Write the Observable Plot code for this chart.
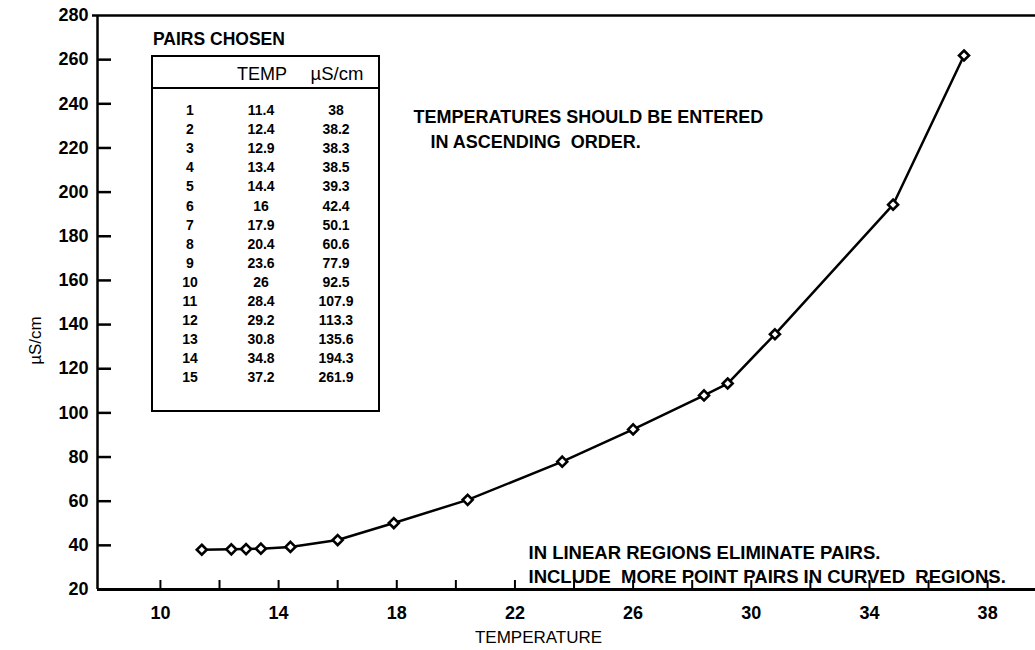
<!DOCTYPE html>
<html><head><meta charset="utf-8">
<script src="https://cdn.jsdelivr.net/npm/d3@7"></script>
<script src="https://cdn.jsdelivr.net/npm/@observablehq/plot@0.6"></script>
<style>
body{margin:0;background:#fff;font-family:"Liberation Sans",Arial,Helvetica,sans-serif;}
#wrap{position:relative;width:1035px;height:650px;overflow:hidden;}
#wrap svg{position:absolute;left:0;top:0;}
.ov{position:absolute;color:#000;white-space:nowrap;line-height:1;}
.b{font-weight:bold;}
.c{transform:translate(-50%,-50%);}
#box{position:absolute;left:151px;top:55px;width:229px;height:357px;border:2.5px solid #000;box-sizing:border-box;}
#sep{position:absolute;left:151px;top:87px;width:229px;height:0;border-top:2px solid #000;}
</style></head><body><div id="wrap"></div>
<script>
// ---- data ----
const pairNo = [1,2,3,4,5,6,7,8,9,10,11,12,13,14,15];
const temperature = [11.4,12.4,12.9,13.4,14.4,16,17.9,20.4,23.6,26,28.4,29.2,30.8,34.8,37.2];
const conductivity = [38,38.2,38.3,38.5,39.3,42.4,50.1,60.6,77.9,92.5,107.9,113.3,135.6,194.3,261.9];
const xTickMarks = [10,12,14,16,18,20,22,24,26,28,30,32,34,36,38];
const xTickLabels = [10,14,18,22,26,30,34,38];
const yTickMarks = [40,60,80,100,120,140,160,180,200,220,240,260];
const yTickLabels = [20,40,60,80,100,120,140,160,180,200,220,240,260,280];
const xTitle = "TEMPERATURE";
const yTitle = "µS/cm";
const tableTitle = "PAIRS CHOSEN";
const tableHeaders = ["TEMP", "µS/cm"];
const noteTop = ["TEMPERATURES SHOULD BE ENTERED", "IN ASCENDING  ORDER."];
const noteBottom = ["IN LINEAR REGIONS ELIMINATE PAIRS.", "INCLUDE  MORE POINT PAIRS IN CURVED  REGIONS."];

const pairs = pairNo.map((n, i) => ({n, t: temperature[i], c: conductivity[i]}));

const W = 1035, H = 650;
const mL = 97, mR = 0, mT = 15, mB = 61;
const frameW = W - mL - mR, frameH = H - mT - mB;
const xDomain = [7.87, 39.62];
const noteStyle = {frameAnchor: "top-left", textAnchor: "start", lineAnchor: "middle", fontSize: 18, fontWeight: "bold", fill: "#000"};

const chart = Plot.plot({
  width: W, height: H,
  marginLeft: mL, marginRight: mR, marginTop: mT, marginBottom: mB,
  style: {fontFamily: '"Liberation Sans", Arial, Helvetica, sans-serif', fontSize: "18px", color: "#000", background: "#fff", overflow: "visible"},
  x: {domain: xDomain},
  y: {domain: [20, 280]},
  marks: [
    Plot.axisY(yTickLabels, {tickSize: 0, tickPadding: 9, label: null, fontWeight: "bold", fontSize: 18}),
    Plot.axisX(xTickLabels, {tickSize: 0, tickPadding: 17, label: null, fontWeight: "bold", fontSize: 18}),
    Plot.ruleX([xDomain[0]], {stroke: "#000", strokeWidth: 2.5}),
    Plot.ruleY([20], {stroke: "#000", strokeWidth: 3}),
    Plot.ruleY([280], {stroke: "#000", strokeWidth: 2.5, insetLeft: -5}),
    Plot.ruleY(yTickMarks, {stroke: "#000", strokeWidth: 2.5, insetRight: frameW - 14}),
    Plot.ruleX(xTickMarks, {stroke: "#000", strokeWidth: 2, insetTop: frameH - 9}),
    Plot.line(pairs, {x: "t", y: "c", stroke: "#000", strokeWidth: 2.5}),
    Plot.dot(pairs, {x: "t", y: "c", symbol: "diamond2", r: 4.5, fill: "#fff", stroke: "#000", strokeWidth: 2.6}),
    Plot.text([xTitle], {frameAnchor: "bottom", lineAnchor: "middle", dx: -28, dy: 48, fontSize: 17, fill: "#000"}),
    Plot.text([yTitle], {frameAnchor: "left", textAnchor: "middle", dx: -62, dy: 38, rotate: -90, fontSize: 17, fill: "#000"}),
    Plot.text([noteTop[0]], {...noteStyle, dx: 316, dy: 102}),
    Plot.text([noteTop[1]], {...noteStyle, dx: 333, dy: 127}),
    Plot.text([noteBottom[0]], {...noteStyle, dx: 431, dy: 538, fontSize: 18.5}),
    Plot.text([noteBottom[1]], {...noteStyle, dx: 431, dy: 562, fontSize: 18.5})
  ]
});

const wrap = document.getElementById("wrap");
wrap.appendChild(chart);

// table overlay
function add(cls, text, left, top, extra) {
  const d = document.createElement("div");
  d.className = "ov " + cls;
  d.textContent = text;
  d.style.left = left + "px";
  d.style.top = top + "px";
  if (extra) Object.assign(d.style, extra);
  wrap.appendChild(d);
  return d;
}
const box = document.createElement("div"); box.id = "box"; wrap.appendChild(box);
const sep = document.createElement("div"); sep.id = "sep"; wrap.appendChild(sep);
add("b", tableTitle, 153, 31, {fontSize: "17.5px"});
add("c", tableHeaders[0], 262, 74, {fontSize: "18px"});
add("c", tableHeaders[1], 337, 74, {fontSize: "18.5px"});
pairs.forEach((p, i) => {
  const y = 110 + i * 19.1;
  add("b c", String(p.n), 190, y, {fontSize: "14px"});
  add("b c", String(p.t), 261, y, {fontSize: "14px"});
  add("b c", String(p.c), 336, y, {fontSize: "14px"});
});
</script>
</body></html>
